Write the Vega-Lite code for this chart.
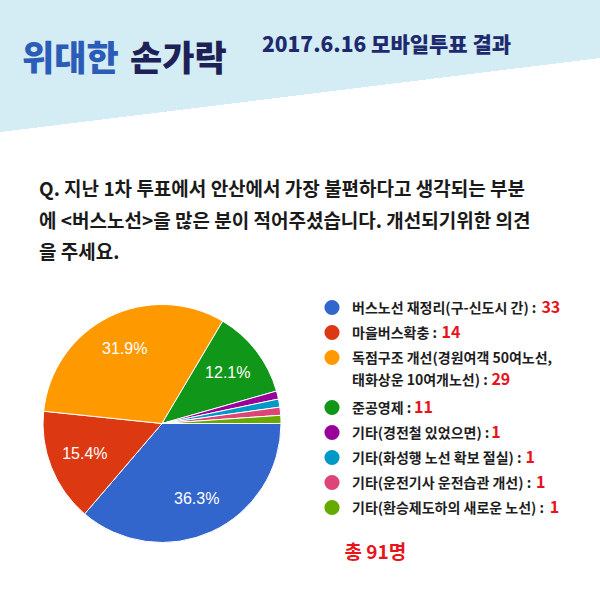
{
  "$schema": "https://vega.github.io/schema/vega-lite/v6.json",
  "padding": 0,
  "background": "white",
  "config": {"view": {"stroke": null}, "font": "Noto Sans CJK KR"},
  "datasets": {
    "votes": [
      {"no": 1, "item": "버스노선 재정리(구-신도시 간)", "count": 33, "pct": "36.3%", "key": "버스노선 재정리(구-신도시 간) :"},
      {"no": 2, "item": "마을버스확충", "count": 14, "pct": "15.4%", "key": "마을버스확충 :"},
      {"no": 3, "item": "독점구조 개선(경원여객 50여노선, 태화상운 10여개노선)", "count": 29, "pct": "31.9%", "key": "독점구조 개선(경원여객 50여노선,\n태화상운 10여개노선) :"},
      {"no": 4, "item": "준공영제", "count": 11, "pct": "12.1%", "key": "준공영제 :"},
      {"no": 5, "item": "기타(경전철 있었으면)", "count": 1, "pct": "", "key": "기타(경전철 있었으면) :"},
      {"no": 6, "item": "기타(화성행 노선 확보 절실)", "count": 1, "pct": "", "key": "기타(화성행 노선 확보 절실) :"},
      {"no": 7, "item": "기타(운전기사 운전습관 개선)", "count": 1, "pct": "", "key": "기타(운전기사 운전습관 개선) :"},
      {"no": 8, "item": "기타(환승제도하의 새로운 노선)", "count": 1, "pct": "", "key": "기타(환승제도하의 새로운 노선) :"}
    ]
  },
  "spacing": 41,
  "vconcat": [
    {
      "spacing": 0,
      "hconcat": [
        {
          "width": 130,
          "height": 140,
          "view": {
            "stroke": null,
            "fill": {
              "gradient": "linear",
              "x1": 0, "y1": 0, "x2": 0.1257, "y2": 1.0999,
              "stops": [
                {"offset": 0, "color": "#d4ecf4"},
                {"offset": 0.8462, "color": "#d4ecf4"},
                {"offset": 0.8467, "color": "#ffffff"},
                {"offset": 1, "color": "#ffffff"}
              ]
            }
          },
          "data": {"values": []},
          "mark": "rect",
          "encoding": {},
          "title": {
            "text": "위대한",
            "orient": "bottom",
            "anchor": "start",
            "offset": -97,
            "dx": 22,
            "baseline": "top",
            "fontSize": 35,
            "fontWeight": 900,
            "color": "#2b5cb8"
          }
        },
        {
          "width": 132,
          "height": 140,
          "view": {
            "stroke": null,
            "fill": {
              "gradient": "linear",
              "x1": 0, "y1": 0, "x2": 0.1282, "y2": 1.1015,
              "stops": [
                {"offset": 0, "color": "#d4ecf4"},
                {"offset": 0.7422, "color": "#d4ecf4"},
                {"offset": 0.7427, "color": "#ffffff"},
                {"offset": 1, "color": "#ffffff"}
              ]
            }
          },
          "data": {"values": []},
          "mark": "rect",
          "encoding": {},
          "title": {
            "text": "손가락",
            "orient": "bottom",
            "anchor": "start",
            "offset": -97,
            "dx": 0,
            "baseline": "top",
            "fontSize": 35,
            "fontWeight": 900,
            "color": "#1d2155"
          }
        },
        {
          "width": 338,
          "height": 140,
          "view": {
            "stroke": null,
            "fill": {
              "gradient": "linear",
              "x1": 0, "y1": 0, "x2": 0.3551, "y2": 1.1921,
              "stops": [
                {"offset": 0, "color": "#d4ecf4"},
                {"offset": 0.5487, "color": "#d4ecf4"},
                {"offset": 0.5492, "color": "#ffffff"},
                {"offset": 1, "color": "#ffffff"}
              ]
            }
          },
          "data": {"values": []},
          "mark": "rect",
          "encoding": {},
          "title": {
            "text": "2017.6.16 모바일투표 결과",
            "orient": "bottom",
            "anchor": "start",
            "offset": -105,
            "dx": 0,
            "baseline": "top",
            "fontSize": 21,
            "fontWeight": 900,
            "color": "#1f2a6e"
          }
        }
      ]
    },
    {
      "spacing": 0,
      "title": {
        "text": [
          "Q. 지난 1차 투표에서 안산에서 가장 불편하다고 생각되는 부분",
          "에 <버스노선>을 많은 분이 적어주셨습니다. 개선되기위한 의견",
          "을 주세요."
        ],
        "anchor": "start",
        "orient": "top",
        "dx": 39,
        "offset": 32,
        "baseline": "top",
        "fontSize": 19,
        "fontWeight": "bold",
        "lineHeight": 31.5,
        "color": "#1a1a1a"
      },
      "hconcat": [
        {
          "width": 324,
          "height": 257,
          "data": {"name": "votes"},
          "encoding": {
            "theta": {"field": "count", "type": "quantitative", "stack": true, "scale": {"range": [1.5708, 7.854]}},
            "order": {"field": "no", "type": "quantitative"}
          },
          "layer": [
            {
              "mark": {"type": "arc", "outerRadius": 119, "stroke": "white", "strokeWidth": 1},
              "encoding": {
                "color": {
                  "field": "item", "type": "nominal", "legend": null,
                  "scale": {
                    "domain": ["버스노선 재정리(구-신도시 간)", "마을버스확충", "독점구조 개선(경원여객 50여노선, 태화상운 10여개노선)", "준공영제", "기타(경전철 있었으면)", "기타(화성행 노선 확보 절실)", "기타(운전기사 운전습관 개선)", "기타(환승제도하의 새로운 노선)"],
                    "range": ["#3366cc", "#dc3912", "#ff9900", "#109618", "#990099", "#0099c6", "#dd4477", "#66aa00"]
                  }
                }
              }
            },
            {
              "mark": {"type": "text", "radius": 83, "fill": "white", "font": "Liberation Sans", "fontSize": 16},
              "encoding": {
                "detail": {"field": "item", "type": "nominal"},
                "text": {"field": "pct", "type": "nominal"}
              }
            }
          ]
        },
        {
          "width": 8,
          "height": 225,
          "data": {"name": "votes"},
          "title": {
            "text": "총 91명",
            "orient": "bottom",
            "anchor": "start",
            "dx": 20,
            "offset": 24,
            "baseline": "top",
            "fontSize": 19,
            "fontWeight": "bold",
            "color": "#e8141b"
          },
          "encoding": {
            "y": {
              "field": "item", "type": "nominal", "axis": null,
              "scale": {
                "type": "point", "padding": 0.5,
                "domain": ["버스노선 재정리(구-신도시 간)", "마을버스확충", "독점구조 개선(경원여객 50여노선, 태화상운 10여개노선)", "_", "준공영제", "기타(경전철 있었으면)", "기타(화성행 노선 확보 절실)", "기타(운전기사 운전습관 개선)", "기타(환승제도하의 새로운 노선)"]
              }
            }
          },
          "layer": [
            {
              "mark": {"type": "point", "filled": true, "size": 230, "opacity": 1},
              "encoding": {
                "color": {
                  "field": "item", "type": "nominal", "legend": null,
                  "scale": {
                    "domain": ["버스노선 재정리(구-신도시 간)", "마을버스확충", "독점구조 개선(경원여객 50여노선, 태화상운 10여개노선)", "준공영제", "기타(경전철 있었으면)", "기타(화성행 노선 확보 절실)", "기타(운전기사 운전습관 개선)", "기타(환승제도하의 새로운 노선)"],
                    "range": ["#3366cc", "#dc3912", "#ff9900", "#109618", "#990099", "#0099c6", "#dd4477", "#66aa00"]
                  }
                }
              }
            },
            {
              "mark": {"type": "text", "align": "left", "baseline": "alphabetic", "dx": 20, "dy": 5, "fontSize": 14, "fontWeight": "bold", "fill": "#1e1e1e", "lineBreak": "\n", "lineHeight": 22},
              "encoding": {"text": {"field": "key", "type": "nominal"}}
            },
            {
              "mark": {
                "type": "text", "align": "left", "baseline": "alphabetic", "fontSize": 16, "fontWeight": "bold", "fill": "#e8141b",
                "dx": {"expr": "20 + 13.8*length(replace(peek(split(datum.key,'\\n')), regexp('[^가-힣]','g'), '')) + 7.7*length(replace(peek(split(datum.key,'\\n')), regexp('[^0-9]','g'), '')) + 3.4*length(replace(peek(split(datum.key,'\\n')), regexp('[가-힣0-9]','g'), '')) - (datum.count < 10 ? 2 : 0)"},
                "dy": {"expr": "5.5 + 22*(length(split(datum.key,'\\n')) - 1)"}
              },
              "encoding": {"text": {"field": "count", "type": "quantitative"}}
            }
          ]
        }
      ]
    }
  ]
}
